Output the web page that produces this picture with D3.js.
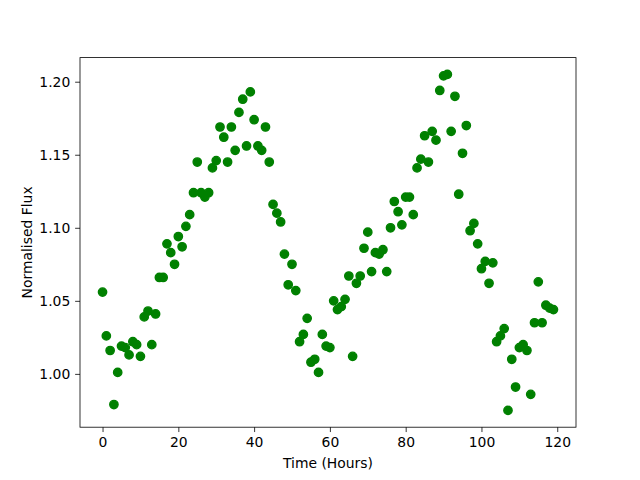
<!DOCTYPE html>
<html>
<head>
<meta charset="utf-8">
<script src="https://cdn.jsdelivr.net/npm/d3@7"></script>
<style>
  body { margin: 0; background: #fff; }
  text { font-family: "DejaVu Sans", sans-serif; }
</style>
</head>
<body>
<div class="canvas"></div>
<script>
// hours since start
const hours = d3.range(0, 120);

// normalised flux, one reading per hour
const flux = [
  1.056, 1.026, 1.016, 0.979, 1.001, 1.019, 1.018, 1.013, 1.022, 1.020,
  1.012, 1.039, 1.043, 1.020, 1.041, 1.066, 1.066, 1.089, 1.083, 1.075,
  1.094, 1.087, 1.101, 1.109, 1.124, 1.145, 1.124, 1.121, 1.124, 1.141,
  1.146, 1.169, 1.162, 1.145, 1.169, 1.153, 1.179, 1.188, 1.156, 1.193,
  1.174, 1.156, 1.153, 1.169, 1.145, 1.116, 1.110, 1.104, 1.082, 1.061,
  1.075, 1.057, 1.022, 1.027, 1.038, 1.008, 1.010, 1.001, 1.027, 1.019,
  1.018, 1.050, 1.044, 1.046, 1.051, 1.067, 1.012, 1.062, 1.067, 1.086,
  1.097, 1.070, 1.083, 1.082, 1.085, 1.070, 1.100, 1.118, 1.111, 1.102,
  1.121, 1.121, 1.109, 1.141, 1.147, 1.163, 1.145, 1.166, 1.160, 1.194,
  1.204, 1.205, 1.166, 1.190, 1.123, 1.151, 1.170, 1.098, 1.103, 1.089,
  1.072, 1.077, 1.062, 1.076, 1.022, 1.026, 1.031, 0.975, 1.010, 0.991,
  1.018, 1.020, 1.016, 0.986, 1.035, 1.063, 1.035, 1.047, 1.045, 1.044
];

const xTicks = [0, 20, 40, 60, 80, 100, 120];
const yTicks = [1.00, 1.05, 1.10, 1.15, 1.20];

const dims = { width: 640, height: 480 };
const margin = { left: 80, right: 64, top: 57.6, bottom: 52.8 };
const inner = {
  width: dims.width - margin.left - margin.right,
  height: dims.height - margin.top - margin.bottom
};

const data = hours.map((h, i) => ({ h: h, f: flux[i] }));

// matplotlib style 5% padding
const pad = ([lo, hi]) => [lo - (hi - lo) * 0.05, hi + (hi - lo) * 0.05];

const x = d3.scaleLinear()
  .domain(pad(d3.extent(data, d => d.h)))
  .range([0, inner.width]);

const y = d3.scaleLinear()
  .domain(pad(d3.extent(data, d => d.f)))
  .range([inner.height, 0]);

const svg = d3.select('.canvas')
  .append('svg')
  .attr('width', dims.width)
  .attr('height', dims.height);

const graph = svg.append('g')
  .attr('transform', `translate(${margin.left}, ${margin.top})`);

// points
graph.selectAll('circle')
  .data(data)
  .enter()
  .append('circle')
    .attr('cx', d => x(d.h))
    .attr('cy', d => y(d.f))
    .attr('r', 4.17)
    .attr('fill', '#008000')
    .attr('stroke', '#008000')
    .attr('stroke-width', 1.39);

// axes
const xAxis = d3.axisBottom(x)
  .tickValues(xTicks)
  .tickFormat(d3.format('d'))
  .tickSize(4.86)
  .tickPadding(4.86)
  .tickSizeOuter(0);

const yAxis = d3.axisLeft(y)
  .tickValues(yTicks)
  .tickFormat(d3.format('.2f'))
  .tickSize(4.86)
  .tickPadding(4.86)
  .tickSizeOuter(0);

const xAxisGroup = graph.append('g')
  .attr('transform', `translate(0, ${inner.height})`)
  .call(xAxis);

const yAxisGroup = graph.append('g')
  .call(yAxis);

[xAxisGroup, yAxisGroup].forEach(g => {
  g.select('.domain').remove();
  g.selectAll('line').attr('stroke', '#000').attr('stroke-width', 0.8);
  g.selectAll('text')
    .attr('font-family', '"DejaVu Sans", sans-serif')
    .attr('font-size', 13.9)
    .attr('fill', '#000');
});

// frame
graph.append('rect')
  .attr('width', inner.width)
  .attr('height', inner.height)
  .attr('fill', 'none')
  .attr('stroke', '#000')
  .attr('stroke-width', 0.8);

// labels
svg.append('text')
  .attr('x', margin.left + inner.width / 2)
  .attr('y', 468)
  .attr('text-anchor', 'middle')
  .attr('font-size', 13.9)
  .text('Time (Hours)');

svg.append('text')
  .attr('transform', `translate(32, ${margin.top + inner.height / 2}) rotate(-90)`)
  .attr('text-anchor', 'middle')
  .attr('font-size', 13.9)
  .text('Normalised Flux');
</script>
</body>
</html>
